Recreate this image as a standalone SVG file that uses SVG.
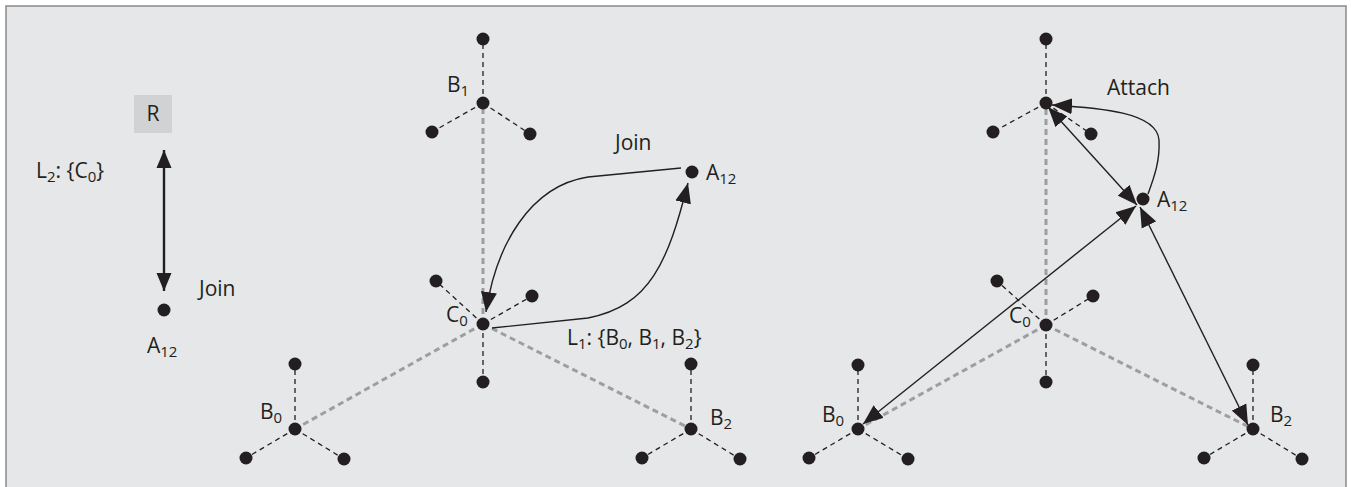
<svg xmlns="http://www.w3.org/2000/svg" width="1355" height="487" viewBox="0 0 1355 487">
<style>
text{font-family:"Open Sans","Noto Sans","Liberation Sans",sans-serif;font-size:21px;fill:#231f20}
.sub{font-size:15px}
.dot{fill:#231f20}
.arm{stroke:#231f20;stroke-width:1.3;stroke-dasharray:5 4;fill:none}
.gray{stroke:#9c9ea1;stroke-width:3;stroke-dasharray:6 4;fill:none}
.conn{stroke:#231f20;stroke-width:1.4;fill:none}
.thick{stroke:#231f20;stroke-width:2.4;fill:none}
</style>
<defs>
<marker id="ah" markerUnits="userSpaceOnUse" markerWidth="21" markerHeight="17" refX="20" refY="8" orient="auto-start-reverse" viewBox="0 0 21 16">
<path d="M0,0 L20,8 L0,16 z" fill="#231f20"/>
</marker>
<marker id="ahb" markerUnits="userSpaceOnUse" markerWidth="19" markerHeight="16" refX="18" refY="7.5" orient="auto-start-reverse" viewBox="0 0 19 15">
<path d="M0,0 L18,7.5 L0,15 z" fill="#231f20"/>
</marker>
</defs>
<rect x="6" y="6" width="1340" height="490" fill="#e6e7e8" stroke="#8a8a8a" stroke-width="1.5"/>

<g id="connectors">
<line class="gray" x1="483" y1="324" x2="483" y2="103"/>
<line class="gray" x1="483" y1="324" x2="295" y2="429"/>
<line class="gray" x1="483" y1="324" x2="691" y2="429"/>
<line class="gray" x1="1046" y1="325" x2="1046" y2="103"/>
<line class="gray" x1="1046" y1="325" x2="858" y2="429"/>
<line class="gray" x1="1046" y1="325" x2="1253" y2="429"/>
<line class="thick" x1="164" y1="150" x2="164" y2="291" marker-start="url(#ahb)" marker-end="url(#ahb)"/>
<path class="conn" d="M681,168 L588,177 C530,186 496,245 486,312" marker-end="url(#ah)"/>
<path class="conn" d="M492,328 L588,318 C650,306 668,262 688,183" marker-end="url(#ah)"/>
<line class="conn" x1="1048" y1="107" x2="1137" y2="205" marker-start="url(#ah)" marker-end="url(#ah)"/>
<line class="conn" x1="863" y1="424" x2="1136" y2="206" marker-start="url(#ah)" marker-end="url(#ah)"/>
<line class="conn" x1="1248" y1="425" x2="1140" y2="207" marker-start="url(#ah)" marker-end="url(#ah)"/>
<path class="conn" d="M1148,194 C1155,175 1160,160 1159,140 C1157,112 1100,108 1052,105" marker-end="url(#ah)"/>
</g>

<g id="R">
<rect x="134" y="95" width="38" height="38" fill="#d1d2d4"/>
<text x="153" y="121" text-anchor="middle">R</text>
</g>
<text x="36" y="178">L<tspan class="sub" dy="4">2</tspan><tspan dy="-4">: {C</tspan><tspan class="sub" dy="4">0</tspan><tspan dy="-4">}</tspan></text>
<text x="199" y="296">Join</text>
<g id="A12-left">
<circle class="dot" cx="164" cy="310" r="6.5"/>
<text x="147" y="353">A<tspan class="sub" dy="4">12</tspan></text>
</g>

<g id="B1-mid">
<line class="arm" x1="483" y1="103" x2="483" y2="39"/>
<line class="arm" x1="483" y1="103" x2="432" y2="132"/>
<line class="arm" x1="483" y1="103" x2="530" y2="134"/>
<circle class="dot" cx="483" cy="103" r="6.5"/>
<circle class="dot" cx="483" cy="39" r="6.5"/>
<circle class="dot" cx="432" cy="132" r="6.5"/>
<circle class="dot" cx="530" cy="134" r="6.5"/>
<text x="447" y="92">B<tspan class="sub" dy="4">1</tspan></text>
</g>
<g id="C0-mid">
<line class="arm" x1="483" y1="324" x2="436" y2="281"/>
<line class="arm" x1="483" y1="324" x2="532" y2="296"/>
<line class="arm" x1="483" y1="324" x2="483" y2="382"/>
<circle class="dot" cx="483" cy="324" r="6.5"/>
<circle class="dot" cx="436" cy="281" r="6.5"/>
<circle class="dot" cx="532" cy="296" r="6.5"/>
<circle class="dot" cx="483" cy="382" r="6.5"/>
<text x="446" y="322">C<tspan class="sub" dy="4">0</tspan></text>
</g>
<g id="B0-mid">
<line class="arm" x1="295" y1="429" x2="295" y2="364"/>
<line class="arm" x1="295" y1="429" x2="246" y2="458"/>
<line class="arm" x1="295" y1="429" x2="344" y2="459"/>
<circle class="dot" cx="295" cy="429" r="6.5"/>
<circle class="dot" cx="295" cy="364" r="6.5"/>
<circle class="dot" cx="246" cy="458" r="6.5"/>
<circle class="dot" cx="344" cy="459" r="6.5"/>
<text x="260" y="419">B<tspan class="sub" dy="4">0</tspan></text>
</g>
<g id="B2-mid">
<line class="arm" x1="691" y1="429" x2="691" y2="364"/>
<line class="arm" x1="691" y1="429" x2="642" y2="458"/>
<line class="arm" x1="691" y1="429" x2="740" y2="459"/>
<circle class="dot" cx="691" cy="429" r="6.5"/>
<circle class="dot" cx="691" cy="364" r="6.5"/>
<circle class="dot" cx="642" cy="458" r="6.5"/>
<circle class="dot" cx="740" cy="459" r="6.5"/>
<text x="710" y="425">B<tspan class="sub" dy="4">2</tspan></text>
</g>
<g id="A12-mid">
<circle class="dot" cx="692" cy="172" r="6.5"/>
<text x="706" y="180">A<tspan class="sub" dy="4">12</tspan></text>
</g>
<text x="615" y="150">Join</text>
<text x="567" y="345">L<tspan class="sub" dy="4">1</tspan><tspan dy="-4">: {B</tspan><tspan class="sub" dy="4">0</tspan><tspan dy="-4">, B</tspan><tspan class="sub" dy="4">1</tspan><tspan dy="-4">, B</tspan><tspan class="sub" dy="4">2</tspan><tspan dy="-4">}</tspan></text>

<g id="B1-right">
<line class="arm" x1="1046" y1="103" x2="1046" y2="39"/>
<line class="arm" x1="1046" y1="103" x2="993" y2="132"/>
<line class="arm" x1="1046" y1="103" x2="1091" y2="134"/>
<circle class="dot" cx="1046" cy="103" r="6.5"/>
<circle class="dot" cx="1046" cy="39" r="6.5"/>
<circle class="dot" cx="993" cy="132" r="6.5"/>
<circle class="dot" cx="1091" cy="134" r="6.5"/>
</g>
<g id="C0-right">
<line class="arm" x1="1046" y1="325" x2="997" y2="281"/>
<line class="arm" x1="1046" y1="325" x2="1093" y2="296"/>
<line class="arm" x1="1046" y1="325" x2="1046" y2="382"/>
<circle class="dot" cx="1046" cy="325" r="6.5"/>
<circle class="dot" cx="997" cy="281" r="6.5"/>
<circle class="dot" cx="1093" cy="296" r="6.5"/>
<circle class="dot" cx="1046" cy="382" r="6.5"/>
<text x="1009" y="323">C<tspan class="sub" dy="4">0</tspan></text>
</g>
<g id="B0-right">
<line class="arm" x1="858" y1="429" x2="858" y2="365"/>
<line class="arm" x1="858" y1="429" x2="809" y2="458"/>
<line class="arm" x1="858" y1="429" x2="908" y2="459"/>
<circle class="dot" cx="858" cy="429" r="6.5"/>
<circle class="dot" cx="858" cy="365" r="6.5"/>
<circle class="dot" cx="809" cy="458" r="6.5"/>
<circle class="dot" cx="908" cy="459" r="6.5"/>
<text x="822" y="422">B<tspan class="sub" dy="4">0</tspan></text>
</g>
<g id="B2-right">
<line class="arm" x1="1253" y1="429" x2="1253" y2="365"/>
<line class="arm" x1="1253" y1="429" x2="1204" y2="458"/>
<line class="arm" x1="1253" y1="429" x2="1302" y2="459"/>
<circle class="dot" cx="1253" cy="429" r="6.5"/>
<circle class="dot" cx="1253" cy="365" r="6.5"/>
<circle class="dot" cx="1204" cy="458" r="6.5"/>
<circle class="dot" cx="1302" cy="459" r="6.5"/>
<text x="1270" y="422">B<tspan class="sub" dy="4">2</tspan></text>
</g>
<g id="A12-right">
<circle class="dot" cx="1143" cy="199" r="6.5"/>
<text x="1157" y="207">A<tspan class="sub" dy="4">12</tspan></text>
</g>
<text x="1107" y="95">Attach</text>
</svg>
